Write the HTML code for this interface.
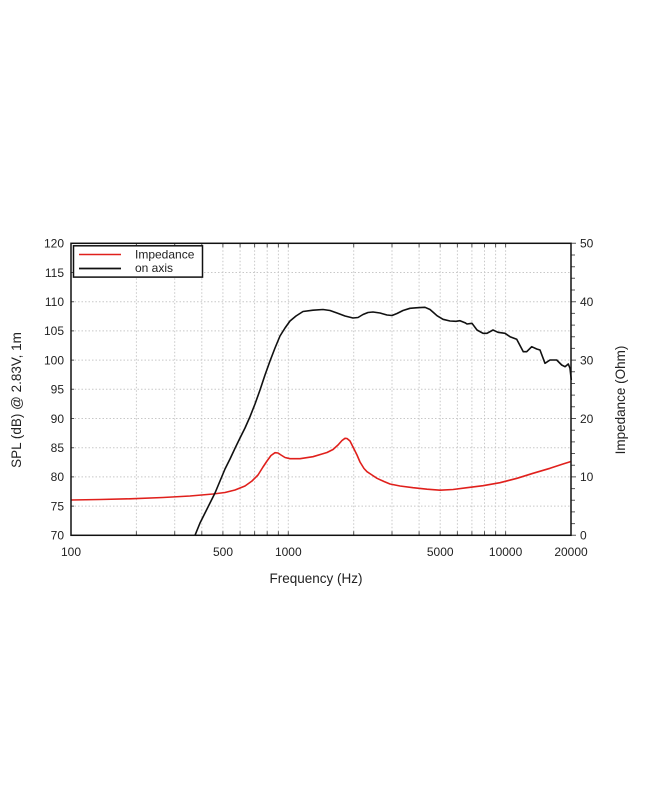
<!DOCTYPE html>
<html>
<head>
<meta charset="utf-8">
<style>
html,body{margin:0;padding:0;background:#fff;}
svg{display:block;}
text{font-family:"Liberation Sans","DejaVu Sans",sans-serif;fill:#222;}
</style>
</head>
<body>
<svg width="650" height="794" viewBox="0 0 650 794" xmlns="http://www.w3.org/2000/svg">
<rect x="0" y="0" width="650" height="794" fill="#fff"/>

<!-- grid -->
<g stroke="#c8c8c8" stroke-width="1" stroke-dasharray="1.5,2" fill="none">
  <!-- vertical -->
  <line x1="136.4" y1="243.3" x2="136.4" y2="535.3"/>
  <line x1="174.7" y1="243.3" x2="174.7" y2="535.3"/>
  <line x1="201.8" y1="243.3" x2="201.8" y2="535.3"/>
  <line x1="222.9" y1="243.3" x2="222.9" y2="535.3"/>
  <line x1="240.1" y1="243.3" x2="240.1" y2="535.3"/>
  <line x1="254.6" y1="243.3" x2="254.6" y2="535.3"/>
  <line x1="267.2" y1="243.3" x2="267.2" y2="535.3"/>
  <line x1="278.4" y1="243.3" x2="278.4" y2="535.3"/>
  <line x1="288.3" y1="243.3" x2="288.3" y2="535.3"/>
  <line x1="353.7" y1="243.3" x2="353.7" y2="535.3"/>
  <line x1="392.0" y1="243.3" x2="392.0" y2="535.3"/>
  <line x1="419.1" y1="243.3" x2="419.1" y2="535.3"/>
  <line x1="440.2" y1="243.3" x2="440.2" y2="535.3"/>
  <line x1="457.4" y1="243.3" x2="457.4" y2="535.3"/>
  <line x1="471.9" y1="243.3" x2="471.9" y2="535.3"/>
  <line x1="484.5" y1="243.3" x2="484.5" y2="535.3"/>
  <line x1="495.6" y1="243.3" x2="495.6" y2="535.3"/>
  <line x1="505.6" y1="243.3" x2="505.6" y2="535.3"/>
  <!-- horizontal -->
  <line x1="71" y1="272.5" x2="571" y2="272.5"/>
  <line x1="71" y1="301.7" x2="571" y2="301.7"/>
  <line x1="71" y1="330.9" x2="571" y2="330.9"/>
  <line x1="71" y1="360.1" x2="571" y2="360.1"/>
  <line x1="71" y1="389.3" x2="571" y2="389.3"/>
  <line x1="71" y1="418.5" x2="571" y2="418.5"/>
  <line x1="71" y1="447.7" x2="571" y2="447.7"/>
  <line x1="71" y1="476.9" x2="571" y2="476.9"/>
  <line x1="71" y1="506.1" x2="571" y2="506.1"/>
</g>

<!-- tick marks top/bottom -->
<g stroke="#555" stroke-width="1">
  <path d="M136.4,243.3v4M174.7,243.3v4M201.8,243.3v4M222.9,243.3v4M240.1,243.3v4M254.6,243.3v4M267.2,243.3v4M278.4,243.3v4M288.3,243.3v4M353.7,243.3v4M392,243.3v4M419.1,243.3v4M440.2,243.3v4M457.4,243.3v4M471.9,243.3v4M484.5,243.3v4M495.6,243.3v4M505.6,243.3v4"/>
  <path d="M136.4,535.3v-4M174.7,535.3v-4M201.8,535.3v-4M222.9,535.3v-4M240.1,535.3v-4M254.6,535.3v-4M267.2,535.3v-4M278.4,535.3v-4M288.3,535.3v-4M353.7,535.3v-4M392,535.3v-4M419.1,535.3v-4M440.2,535.3v-4M457.4,535.3v-4M471.9,535.3v-4M484.5,535.3v-4M495.6,535.3v-4M505.6,535.3v-4"/>
  <!-- left ticks -->
  <path d="M71,272.5h3M71,301.7h3M71,330.9h3M71,360.1h3M71,389.3h3M71,418.5h3M71,447.7h3M71,476.9h3M71,506.1h3"/>
  <!-- right minor ticks every 2 ohm -->
  <path d="M571,523.6h4M571,511.9h4M571,500.3h4M571,488.6h4M571,476.9h5M571,465.2h4M571,453.5h4M571,441.9h4M571,430.2h4M571,418.5h5M571,406.8h4M571,395.1h4M571,383.5h4M571,371.8h4M571,360.1h5M571,348.4h4M571,336.7h4M571,325.1h4M571,313.4h4M571,301.7h5M571,290h4M571,278.3h4M571,266.7h4M571,255h4M571,243.3h5M571,535.3h5"/>
</g>

<!-- red impedance curve -->
<path fill="none" stroke="#e0201c" stroke-width="1.6" stroke-linejoin="round"
d="M71,500 L100,499.5 L130,498.8 L163,497.5 L190,496 L213,494 L225,492.5 L235,490 L245,486 L252,481 L258,475 L263,467 L267,461 L271,455.5 L275,452.7 L278,453 L281,455 L285,457.5 L290,458.7 L300,458.7 L313,456.7 L322,454 L327,452.5 L333,449.5 L338,445 L342,440.5 L345,438.3 L347,438.5 L350,441 L353,447 L357,455 L360,462 L364,468.5 L367,471.7 L372,475 L377,478.3 L384,481.5 L390,484 L400,486 L413,487.7 L427,489.2 L440,490.2 L453,489.5 L467,487.7 L483,485.7 L500,482.7 L517,478.3 L533,473.3 L550,468.3 L563,464 L571,461.5"/>

<!-- black SPL curve -->
<path fill="none" stroke="#111" stroke-width="1.6" stroke-linejoin="round"
d="M195,535.3 L200,523 L205,513 L210,503 L215,493 L220,481 L225,469 L230,459 L235,448.3 L240,438 L245,428 L250,416.7 L255,404 L260,390 L265,375 L270,361 L275,348 L280,336 L285,328 L290,321 L296,316 L303,311.5 L313,310.2 L323,309.5 L330,310.5 L337,313 L345,316 L353,318 L358,317.5 L363,314.5 L368,312.5 L373,312 L380,313 L387,315 L392,315.5 L397,313.5 L403,310.5 L410,308.3 L416,307.8 L420,307.6 L425,307.3 L430,309.5 L434,313 L437,315.7 L443,319.3 L450,321 L456,321.3 L460,320.7 L465,322.7 L467,324 L472,323.3 L477,330 L483,333.3 L487,333.3 L493,330 L498,332.3 L505,333.3 L510,336.7 L516.7,339.3 L523.3,351.7 L526.7,351.7 L531.7,346.7 L536.7,349 L540,350 L545,363.3 L550,360 L556.7,360 L561.7,365 L565,366.7 L568.3,364 L570,368.3 L571.3,380"/>

<!-- frame -->
<rect x="71" y="243.3" width="500" height="292" fill="none" stroke="#111" stroke-width="1.5"/>

<!-- legend -->
<rect x="73.5" y="245.8" width="129" height="31.3" fill="#fff" stroke="#111" stroke-width="1.5"/>
<line x1="79" y1="254.5" x2="121" y2="254.5" stroke="#e0201c" stroke-width="1.6"/>
<line x1="79" y1="268.5" x2="121" y2="268.5" stroke="#111" stroke-width="1.8"/>
<text x="135" y="258.5" font-size="12">Impedance</text>
<text x="135" y="272" font-size="12">on axis</text>

<!-- left tick labels -->
<g font-size="12" text-anchor="end">
  <text x="64" y="247.6">120</text>
  <text x="64" y="276.8">115</text>
  <text x="64" y="306">110</text>
  <text x="64" y="335.2">105</text>
  <text x="64" y="364.4">100</text>
  <text x="64" y="393.6">95</text>
  <text x="64" y="422.8">90</text>
  <text x="64" y="452">85</text>
  <text x="64" y="481.2">80</text>
  <text x="64" y="510.4">75</text>
  <text x="64" y="539.6">70</text>
</g>

<!-- right tick labels -->
<g font-size="12" text-anchor="start">
  <text x="580" y="247.6">50</text>
  <text x="580" y="306">40</text>
  <text x="580" y="364.4">30</text>
  <text x="580" y="422.8">20</text>
  <text x="580" y="481.2">10</text>
  <text x="580" y="539.6">0</text>
</g>

<!-- bottom tick labels -->
<g font-size="12" text-anchor="middle">
  <text x="71" y="556">100</text>
  <text x="223" y="556">500</text>
  <text x="288.3" y="556">1000</text>
  <text x="440.2" y="556">5000</text>
  <text x="505.6" y="556">10000</text>
  <text x="571" y="556">20000</text>
</g>

<!-- axis titles -->
<text x="316" y="583" font-size="13.5" text-anchor="middle">Frequency (Hz)</text>
<text transform="translate(21,400) rotate(-90)" font-size="13.5" text-anchor="middle">SPL (dB) @ 2.83V, 1m</text>
<text transform="translate(625,400) rotate(-90)" font-size="13.5" text-anchor="middle">Impedance (Ohm)</text>
</svg>
</body>
</html>
